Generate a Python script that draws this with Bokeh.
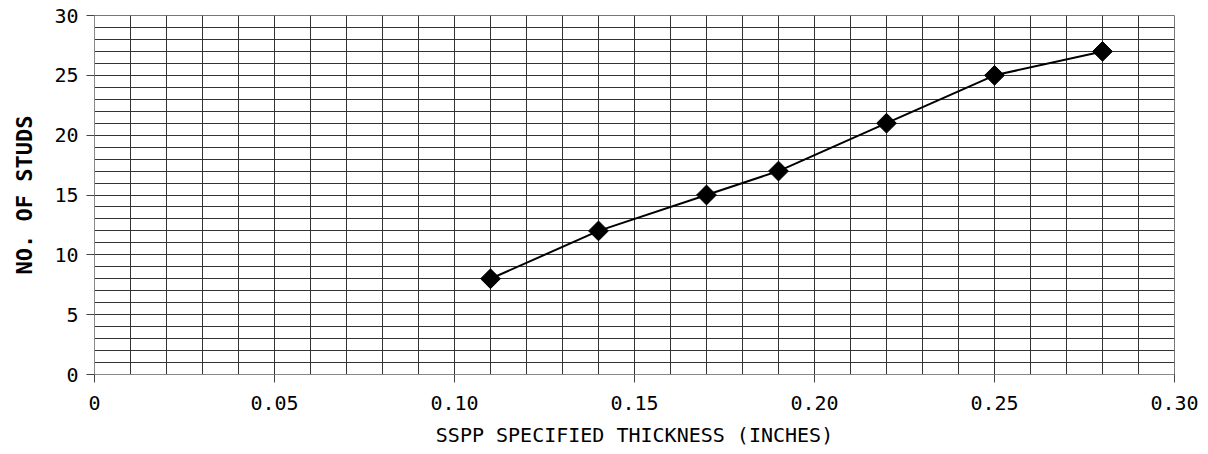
import math
from bokeh.plotting import figure
from bokeh.models import Range1d, FixedTicker, ColumnDataSource
from bokeh.embed import file_html
from bokeh.resources import INLINE

# data
thickness = [0.11, 0.14, 0.17, 0.19, 0.22, 0.25, 0.28]
studs = [8, 12, 15, 17, 21, 25, 27]

x_ticks = [0.0, 0.05, 0.10, 0.15, 0.20, 0.25, 0.30]
x_tick_labels = ["0", "0.05", "0.10", "0.15", "0.20", "0.25", "0.30"]
y_ticks = [0, 5, 10, 15, 20, 25, 30]
x_grid_ticks = [round(i * 0.01, 2) for i in range(31)]
y_grid_ticks = list(range(31))

FONT = "DejaVu Sans Mono"

p = figure(width=1200, height=449, output_backend="svg", toolbar_location=None,
           x_range=Range1d(0, 0.30), y_range=Range1d(0, 30),
           min_border_left=94, min_border_right=26, min_border_top=15, min_border_bottom=60)
p.background_fill_color = "white"
p.border_fill_color = "white"
p.outline_line_color = "#777777"

p.xaxis.ticker = FixedTicker(ticks=x_ticks)
p.xaxis.major_label_overrides = {t: l for t, l in zip(x_ticks, x_tick_labels)}
p.yaxis.ticker = FixedTicker(ticks=y_ticks)

p.xgrid.ticker = FixedTicker(ticks=x_grid_ticks)
p.ygrid.ticker = FixedTicker(ticks=y_grid_ticks)
for g in (p.xgrid, p.ygrid):
    g.grid_line_color = "#333333"
    g.grid_line_width = 1
    g.grid_line_alpha = 1.0

for ax in (p.xaxis, p.yaxis):
    ax.axis_line_color = "#888888"
    ax.major_tick_line_color = "#444444"
    ax.major_tick_out = 8
    ax.major_tick_in = 0
    ax.minor_tick_line_color = None
    ax.major_label_text_font = FONT
    ax.major_label_text_font_size = "20px"
    ax.major_label_text_color = "black"
    ax.axis_label_text_font = FONT
    ax.axis_label_text_font_size = "20px"
    ax.axis_label_text_font_style = "normal"
    ax.axis_label_text_color = "black"

p.xaxis.axis_label = "SSPP SPECIFIED THICKNESS (INCHES)"
p.yaxis.axis_label = "NO. OF STUDS"
p.xaxis.major_label_standoff = 13
p.yaxis.major_label_standoff = 8
p.xaxis.axis_label_standoff = 10
p.yaxis.axis_label_standoff = 14
p.yaxis.axis_label_text_font_size = "22px"
p.yaxis.axis_label_text_font_style = "bold"

src = ColumnDataSource(dict(x=thickness, y=studs))
p.line("x", "y", source=src, line_color="black", line_width=2)
p.scatter("x", "y", source=src, marker="square", size=14, angle=math.pi / 4,
          fill_color="black", line_color="black")

open("out.html", "w").write(file_html(p, INLINE))
